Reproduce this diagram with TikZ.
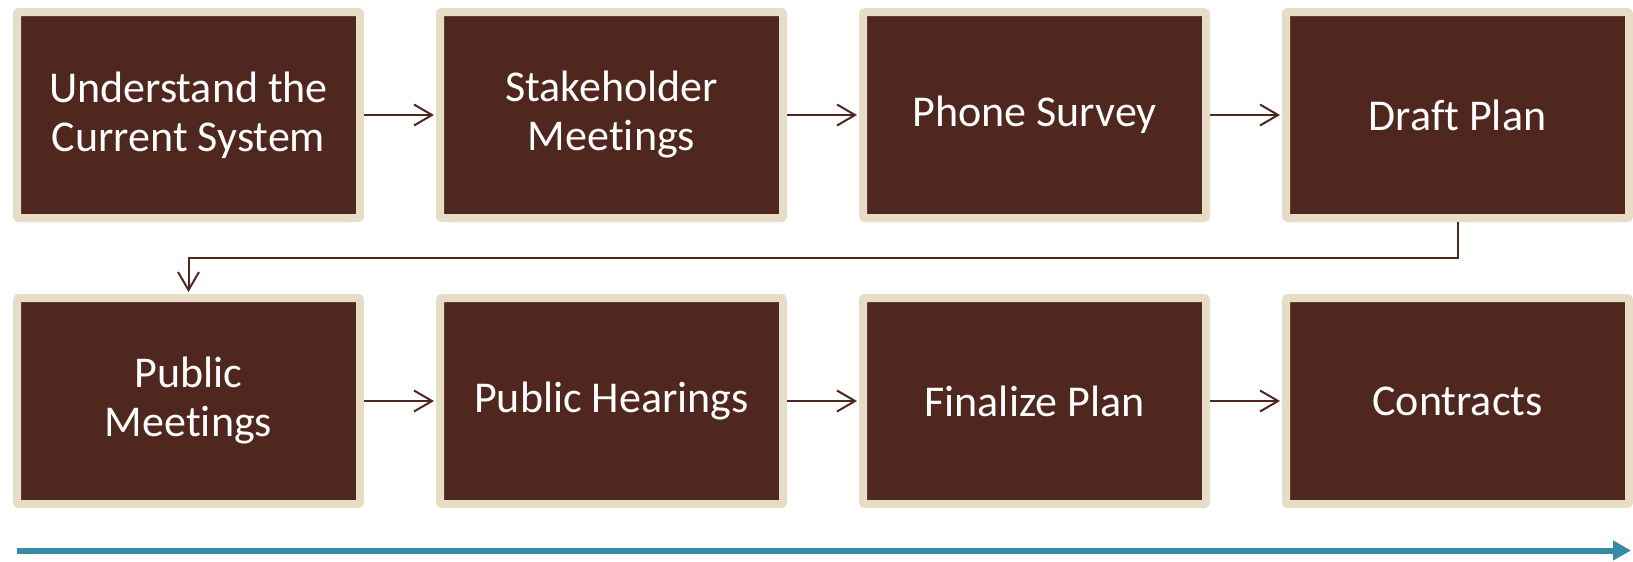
\documentclass[tikz,border=0pt]{standalone}
\usepackage{fontspec}
\setmainfont{Carlito}[Ligatures=NoCommon]
\usetikzlibrary{arrows.meta,shadows}
\definecolor{boxbrown}{HTML}{4F271E}
\definecolor{boxbeige}{HTML}{E7DDC6}
\definecolor{flowteal}{HTML}{368CA5}
\tikzset{
  stepbox/.style={draw=boxbeige, fill=boxbrown, line width=8pt, rounded corners=2pt,
    minimum width=343pt, minimum height=206pt, inner sep=0pt, outer sep=4pt,
    text=white, align=center,
    font=\fontsize{44}{49}\selectfont,
    drop shadow={shadow xshift=0pt, shadow yshift=-3pt, opacity=0.25, fill=black}},
  link/.style={draw=boxbrown, line width=2pt,
    -{Straight Barb[length=18pt,width=21pt,line width=2pt]}, shorten >=2pt},
}
\begin{document}
\begin{tikzpicture}[x=1pt,y=-1pt]
\useasboundingbox (0,0) rectangle (1633,562);
\node[stepbox] (a) at (188.5,115) {Understand the\\Current System};
\node[stepbox] (b) at (611.5,115) {Stakeholder\\Meetings};
\node[stepbox] (c) at (1034.5,115) {Phone Survey};
\node[stepbox] (d) at (1457.5,115) {Draft Plan};
\node[stepbox] (e) at (188.5,401) {Public\\Meetings};
\node[stepbox] (f) at (611.5,401) {Public Hearings};
\node[stepbox] (g) at (1034.5,401) {Finalize Plan};
\node[stepbox] (h) at (1457.5,401) {Contracts};
\draw[link] (a.east) -- (b.west);
\draw[link] (b.east) -- (c.west);
\draw[link] (c.east) -- (d.west);
\draw[link] (e.east) -- (f.west);
\draw[link] (f.east) -- (g.west);
\draw[link] (g.east) -- (h.west);
\draw[link] (d.south) -- (1457.5,258) -- (188.5,258) -- (e.north);
\coordinate (ts) at (17,550.5);
\coordinate (te) at (1631,550.5);
\draw[flowteal, line width=6pt, -{Triangle[length=18pt,width=19pt]}] (ts) -- (te);
\end{tikzpicture}
\end{document}
